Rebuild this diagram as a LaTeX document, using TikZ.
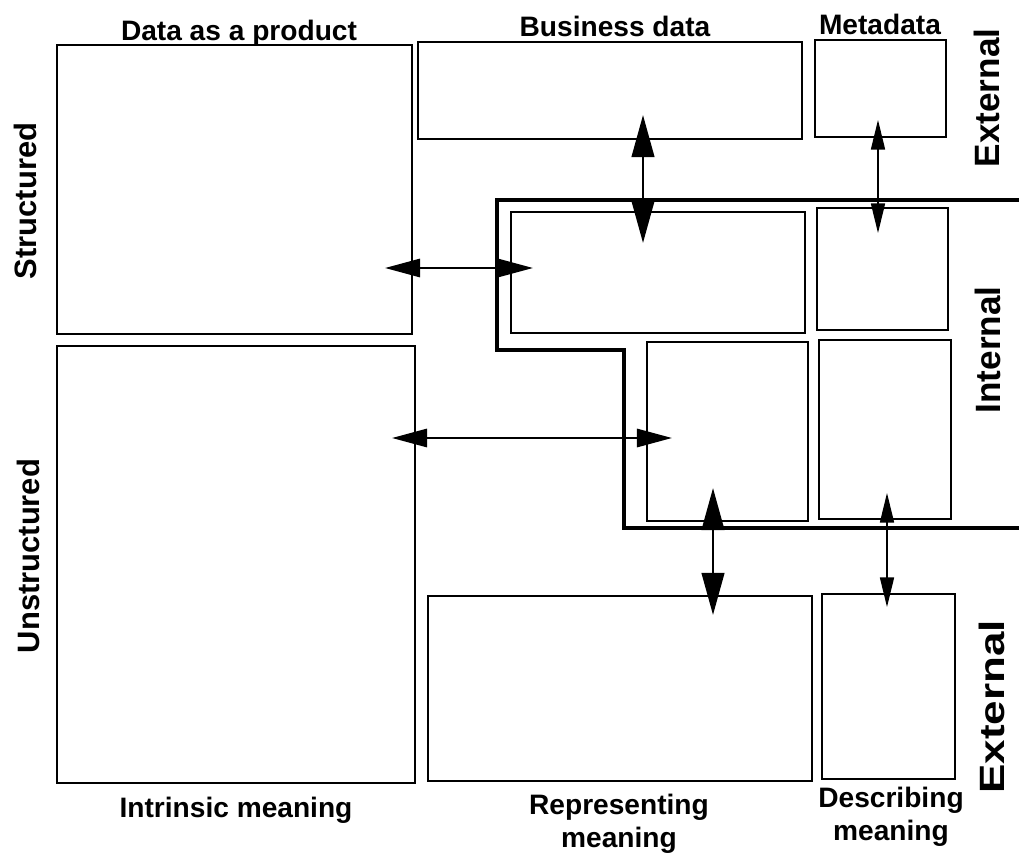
\documentclass[tikz,border=0pt]{standalone}
\usepackage{fontspec}
\setmainfont{Liberation Sans}
\usetikzlibrary{arrows.meta}

\begin{document}
\begin{tikzpicture}[x=0.025cm, y=-0.025cm,
  box/.style={draw, line width=1.2pt, inner sep=0pt, outer sep=0pt},
  lbl/.style={font=\fontsize{20}{23.5}\selectfont\bfseries, inner sep=0pt, align=center},
  sideL/.style={font=\fontsize{22}{24}\selectfont\bfseries, inner sep=0pt, rotate=90},
  sideR/.style={font=\fontsize{25}{28}\selectfont\bfseries, inner sep=0pt, rotate=90},
  bigArr/.style={line width=2.1pt, {Triangle[length=30pt,width=16pt]}-{Triangle[length=30pt,width=16pt]}},
  midArr/.style={line width=1.7pt, {Triangle[length=25pt,width=13pt]}-{Triangle[length=25pt,width=13pt]}},
  thinArr/.style={line width=1pt, {Triangle[length=21pt,width=10pt]}-{Triangle[length=21pt,width=10pt]}}]
  \useasboundingbox (0,0) rectangle (1019,854);
  % Left column: data as a product, structured and unstructured
  \node[box, minimum width=8.875cm, minimum height=7.225cm] (dataProd) at (234.5,189.5) {};
  \node[box, minimum width=8.95cm, minimum height=10.925cm] (unstr) at (236,564.5) {};
  % External business data and metadata (top)
  \node[box, minimum width=9.6cm, minimum height=2.425cm] (bizExt) at (610,90.5) {};
  \node[box, minimum width=3.275cm, minimum height=2.425cm] (metaExt) at (880.5,88.5) {};
  % Internal region
  \node[box, minimum width=7.35cm, minimum height=3.025cm] (bizInt) at (658,272.5) {};
  \node[box, minimum width=3.275cm, minimum height=3.05cm] (metaInt) at (882.5,269) {};
  \node[box, minimum width=4.025cm, minimum height=4.475cm] (repInt) at (727.5,431.5) {};
  \node[box, minimum width=3.3cm, minimum height=4.475cm] (metaIntU) at (885,429.5) {};
  \draw[line width=2.6pt] (1019,200) -- (497,200) -- (497,350) -- (624,350)
    -- (624,528) -- (1019,528);
  % External (bottom)
  \node[box, minimum width=9.6cm, minimum height=4.625cm] (repExt) at (620,688.5) {};
  \node[box, minimum width=3.325cm, minimum height=4.625cm] (descExt) at (888.5,686.5) {};

  % arrow ends
  \coordinate (bizUp) at (643,115);
  \coordinate (bizDown) at (643,243);
  \coordinate (metaUp) at (878,120);
  \coordinate (metaDown) at (878,233);
  \coordinate (strL) at (385,268);
  \coordinate (strR) at (533,268);
  \coordinate (unsL) at (392,438);
  \coordinate (unsR) at (672,438);
  \coordinate (repUp) at (713,488);
  \coordinate (repDown) at (713,615);
  \coordinate (descUp) at (887,493);
  \coordinate (descDown) at (887,607);
  \draw[bigArr] (bizUp) -- (bizDown);
  \draw[thinArr] (metaUp) -- (metaDown);
  \draw[midArr] (strL) -- (strR);
  \draw[midArr] (unsL) -- (unsR);
  \draw[bigArr] (repUp) -- (repDown);
  \draw[thinArr] (descUp) -- (descDown);

  % labels
  \node[lbl, anchor=base] (tDataProd) at (239,41) {Data as a product};
  \node[lbl, anchor=base] (tBiz) at (615,37) {Business data};
  \node[lbl, anchor=base] (tMeta) at (880,35) {Metadata};
  \node[lbl, anchor=base] (tIntr) at (236,817) {Intrinsic meaning};
  \node[lbl, anchor=north] (tRep) at (619,794) {Representing\\meaning};
  \node[lbl, anchor=north] (tDesc) at (891,787) {Describing\\meaning};
  \node[sideL] (tStr) at (25,201) {Structured};
  \node[sideL] (tUnstr) at (28,556) {Unstructured};
  \node[sideR] (tExtTop) at (987,98) {External};
  \node[sideR] (tInt) at (988,350) {Internal};
  \node[sideR, xscale=1.25] (tExtBot) at (992,707) {External};
\end{tikzpicture}
\end{document}
